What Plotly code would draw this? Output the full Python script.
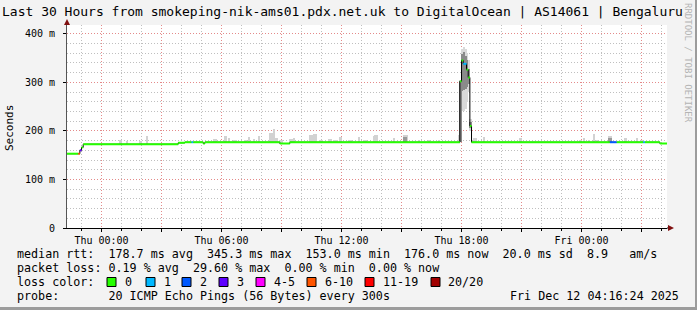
import plotly.graph_objects as go
import pandas as pd

# ---------------- data ----------------
T_START = "2025-12-10 22:16:24"
T_END = "2025-12-12 04:16:24"

LOSS_LABELS = ["0", "1", "2", "3", "4-5", "6-10", "11-19", "20/20"]
LOSS_COLORS = ["#26ff00", "#00b8ff", "#0059ff", "#5e00ff", "#ff00ff", "#ff5500", "#ff0000", "#a10000"]

# median rtt (ms) as runs: start of run, value, loss-bucket index
MED_TIME = ["2025-12-10 22:15", "2025-12-10 22:50", "2025-12-10 22:55", "2025-12-10 23:00",
            "2025-12-10 23:05", "2025-12-11 03:50", "2025-12-11 04:10", "2025-12-11 04:30",
            "2025-12-11 04:35", "2025-12-11 05:05", "2025-12-11 05:10", "2025-12-11 08:55",
            "2025-12-11 09:25", "2025-12-11 17:55", "2025-12-11 18:00", "2025-12-11 18:05",
            "2025-12-11 18:15", "2025-12-11 18:20", "2025-12-11 18:25", "2025-12-11 18:30",
            "2025-12-12 01:25", "2025-12-12 01:45", "2025-12-12 03:05", "2025-12-12 03:10",
            "2025-12-12 03:55"]
MED_MS = [153, 153, 160, 166, 172.5, 175.5, 176.6, 176.6, 176.6, 174, 176.6, 174,
          176.6, 302, 345, 338, 326, 310, 210, 176.6, 176.6, 176.6, 176.6, 176.6, 174]
MED_LOSS = [0, 5, 3, 0, 0, 0, 0, 1, 0, 0, 0, 0,
            0, 0, 0, 1, 0, 0, 0, 0, 2, 0, 1, 0, 0]

# light smoke spikes above the median (upper ping value, ms)
SMOKE_TIME = ["2025-12-11 00:55", "2025-12-11 01:15", "2025-12-11 01:55", "2025-12-11 02:15",
              "2025-12-11 05:35", "2025-12-11 05:40", "2025-12-11 06:10", "2025-12-11 06:20",
              "2025-12-11 06:35", "2025-12-11 06:40", "2025-12-11 07:10", "2025-12-11 07:20",
              "2025-12-11 07:35", "2025-12-11 07:50", "2025-12-11 08:25", "2025-12-11 08:30",
              "2025-12-11 08:35", "2025-12-11 08:40", "2025-12-11 08:45", "2025-12-11 08:55",
              "2025-12-11 09:00", "2025-12-11 09:25", "2025-12-11 09:30", "2025-12-11 09:35",
              "2025-12-11 10:25", "2025-12-11 10:30", "2025-12-11 10:35", "2025-12-11 10:40",
              "2025-12-11 10:55", "2025-12-11 11:00", "2025-12-11 11:20", "2025-12-11 11:25",
              "2025-12-11 11:35", "2025-12-11 11:40", "2025-12-11 11:45", "2025-12-11 11:55",
              "2025-12-11 12:20", "2025-12-11 12:25", "2025-12-11 12:50", "2025-12-11 13:05",
              "2025-12-11 13:10", "2025-12-11 13:35", "2025-12-11 13:40", "2025-12-11 13:45",
              "2025-12-11 14:35", "2025-12-11 15:05", "2025-12-11 15:10", "2025-12-11 15:15",
              "2025-12-11 15:50", "2025-12-11 16:20", "2025-12-11 16:50", "2025-12-11 17:50",
              "2025-12-11 18:35", "2025-12-11 18:40", "2025-12-11 19:05", "2025-12-11 20:55",
              "2025-12-11 23:55", "2025-12-12 00:05", "2025-12-12 00:20", "2025-12-12 00:35",
              "2025-12-12 00:45", "2025-12-12 01:20", "2025-12-12 01:25", "2025-12-12 02:10",
              "2025-12-12 02:45", "2025-12-12 03:00"]
SMOKE_HI = [182, 180, 180, 190,
            184, 184, 189, 186,
            182, 182, 182, 187,
            183, 189, 196, 196,
            203, 186, 186, 182,
            182, 184, 184, 186,
            191, 191, 194, 194,
            182, 182, 183, 183,
            182, 182, 182, 187,
            182, 182, 187, 182,
            182, 189, 192, 192,
            186, 192, 192, 192,
            181, 182, 182, 192,
            186, 186, 187, 186,
            182, 186, 182, 194,
            182, 189, 189, 186,
            186, 182]

# darker smoke cores
DARK_TIME = ["2025-12-11 15:05", "2025-12-11 15:10", "2025-12-12 01:20", "2025-12-12 01:25"]
DARK_HI = [188, 188, 186, 186]

# smoke during the latency spike
SPIKE_TIME = ["2025-12-11 17:55", "2025-12-11 18:00", "2025-12-11 18:05", "2025-12-11 18:10",
              "2025-12-11 18:15", "2025-12-11 18:20", "2025-12-11 18:25"]
SPIKE_OUT_LO = [177, 240, 240, 245, 260, 280, 200]
SPIKE_OUT_HI = [305, 368, 372, 368, 360, 345, 225]
SPIKE_IN_LO = [177, 282, 285, 286, 290, 296, 205]
SPIKE_IN_HI = [302, 358, 362, 355, 345, 328, 218]

XTICK_TIME = ["2025-12-11 00:00", "2025-12-11 03:00", "2025-12-11 06:00", "2025-12-11 09:00",
              "2025-12-11 12:00", "2025-12-11 15:00", "2025-12-11 18:00", "2025-12-11 21:00",
              "2025-12-12 00:00", "2025-12-12 03:00"]
XTICK_TEXT = ["Thu 00:00", "", "Thu 06:00", "", "Thu 12:00", "", "Thu 18:00", "", "Fri 00:00", ""]
YTICK_VAL = [0, 100, 200, 300, 400]
YTICK_TEXT = ["0", "100 m", "200 m", "300 m", "400 m"]

TITLE = "Last 30 Hours from smokeping-nik-ams01.pdx.net.uk to DigitalOcean | AS14061 | Bengaluru"
LEG_RTT = "median rtt:  178.7 ms avg  345.3 ms max  153.0 ms min  176.0 ms now  20.0 ms sd  8.9   am/s"
LEG_LOSS = "packet loss: 0.19 % avg  29.60 % max  0.00 % min  0.00 % now"
LEG_COLOR = "loss color:"
LEG_PROBE = "probe:       20 ICMP Echo Pings (56 Bytes) every 300s"
DATE_TEXT = "Fri Dec 12 04:16:24 2025"
WATERMARK = "RRDTOOL / TOBI OETIKER"

# ---------------- layout helpers ----------------
W, H = 697, 310
ML, MR, MT, MB = 67, 30, 25, 82
PW, PH = W - ML - MR, H - MT - MB
MONO = "DejaVu Sans Mono"


def fx(px):
    return (px - ML) / PW


def fy(py):
    return (H - MB - py) / PH


def nb(s):
    return s.replace(" ", "\u00a0")


STEP = pd.Timedelta(seconds=300)
med_t = [pd.Timestamp(t) for t in MED_TIME]


def med_at(t):
    v = MED_MS[0]
    for tt, vv in zip(med_t, MED_MS):
        if tt <= t:
            v = vv
    return v


fig = go.Figure()


def smoke(times, lo, hi, color):
    ts = [pd.Timestamp(t) for t in times]
    fig.add_trace(go.Bar(
        x=[t + STEP / 2 for t in ts], y=[h - l for h, l in zip(hi, lo)], base=lo,
        width=300000, marker=dict(color=color, line=dict(width=0)),
        hoverinfo="skip", showlegend=False))


sm_lo = [med_at(pd.Timestamp(t)) for t in SMOKE_TIME]
smoke(SMOKE_TIME, sm_lo, SMOKE_HI, "#d2d2d2")
dk_lo = [med_at(pd.Timestamp(t)) for t in DARK_TIME]
smoke(DARK_TIME, dk_lo, DARK_HI, "#9a9a9a")
smoke(SPIKE_TIME, SPIKE_OUT_LO, SPIKE_OUT_HI, "#d9d9d9")
smoke(SPIKE_TIME, SPIKE_IN_LO, SPIKE_IN_HI, "#8a8a8a")

# black connector (step line)
fig.add_trace(go.Scatter(x=MED_TIME + [T_END], y=MED_MS + [MED_MS[-1]], mode="lines",
                         line=dict(color="#000000", width=1, shape="hv"),
                         hoverinfo="skip", showlegend=False))

# coloured median segments by loss bucket
ends = med_t[1:] + [pd.Timestamp(T_END)]
for b, col in enumerate(LOSS_COLORS):
    xs, ys = [], []
    for t0, t1, v, l in zip(med_t, ends, MED_MS, MED_LOSS):
        if l == b:
            xs += [t0, t1, None]
            ys += [v, v, None]
    if xs:
        fig.add_trace(go.Scatter(x=xs, y=ys, mode="lines", line=dict(color=col, width=2),
                                 hoverinfo="skip", showlegend=False))

MAJ_GRID = "rgba(240,120,120,0.75)"
MIN_GRID = "rgba(170,170,170,0.75)"

fig.update_layout(
    width=W, height=H, margin=dict(l=ML, r=MR, t=MT, b=MB, pad=0),
    paper_bgcolor="#f3f3f3", plot_bgcolor="#ffffff",
    barmode="overlay", bargap=0, showlegend=False,
    font=dict(family=MONO, size=10, color="#000000"),
    xaxis=dict(range=[T_START, T_END], type="date",
               tickmode="array", tickvals=XTICK_TIME, ticktext=XTICK_TEXT,
               showgrid=True, gridcolor=MAJ_GRID, griddash="1px,2px", gridwidth=1,
               showline=True, linecolor="#000000", linewidth=1,
               ticks="outside", ticklen=3, tickcolor="#000000",
               tickfont=dict(family=MONO, size=10),
               minor=dict(tickmode="linear", tick0="2025-12-11 00:00", dtick=3600000,
                          showgrid=True, gridcolor=MIN_GRID, griddash="1px,2px", gridwidth=1,
                          ticks="outside", ticklen=2, tickcolor="#000000"),
               zeroline=False, fixedrange=True),
    yaxis=dict(range=[0, 418], tickmode="array", tickvals=YTICK_VAL, ticktext=YTICK_TEXT,
               showgrid=True, gridcolor=MAJ_GRID, griddash="1px,2px", gridwidth=1,
               showline=True, linecolor="#555555", linewidth=1,
               ticks="outside", ticklen=3, tickcolor="#000000",
               ticklabelstandoff=6,
               tickfont=dict(family=MONO, size=10),
               minor=dict(tickmode="linear", tick0=0, dtick=20,
                          showgrid=True, gridcolor=MIN_GRID, griddash="1px,2px", gridwidth=1),
               zeroline=False, fixedrange=True),
)

ann = []
ann.append(dict(text=nb(TITLE), x=fx(0), y=fy(12), xanchor="left", yanchor="middle",
                font=dict(family=MONO, size=13.0, color="#000000")))
ann.append(dict(text="Seconds", x=fx(10), y=fy(128), textangle=-90, xanchor="center",
                yanchor="middle", font=dict(family=MONO, size=11, color="#000000")))
ann.append(dict(text=nb(WATERMARK), x=fx(688), y=fy(63), textangle=90, xanchor="center",
                yanchor="middle", font=dict(family=MONO, size=9, color="#b4b4b4")))
LEG_FONT = dict(family=MONO, size=11.7, color="#000000")
for txt, py in [(LEG_RTT, 254), (LEG_LOSS, 268), (LEG_COLOR, 282), (LEG_PROBE, 296)]:
    ann.append(dict(text=nb(txt), x=fx(15), y=fy(py), xanchor="left", yanchor="middle",
                    font=LEG_FONT))
ann.append(dict(text=nb(DATE_TEXT), x=fx(681), y=fy(296), xanchor="right", yanchor="middle",
                font=LEG_FONT))

BOX_X = [107, 146, 182, 219, 256, 307, 365, 431]
LAB_X = [123, 162, 198, 235, 272, 323, 381, 446]
shapes = []
for lab, col, bx, lx in zip(LOSS_LABELS, LOSS_COLORS, BOX_X, LAB_X):
    shapes.append(dict(type="rect", xref="paper", yref="paper", x0=fx(bx), x1=fx(bx + 9),
                       y0=fy(286.5), y1=fy(277.5), fillcolor=col,
                       line=dict(color="#000000", width=1)))
    ann.append(dict(text=nb(lab), x=fx(lx), y=fy(282), xanchor="left", yanchor="middle",
                    font=LEG_FONT))
for a in ann:
    a.update(xref="paper", yref="paper", showarrow=False)

# axis arrows
shapes.append(dict(type="line", xref="paper", yref="paper", x0=fx(67), x1=fx(67),
                   y0=fy(25), y1=fy(21), line=dict(color="#555555", width=1)))
shapes.append(dict(type="path", xref="paper", yref="paper",
                   path=f"M {fx(64)} {fy(25)} L {fx(70)} {fy(25)} L {fx(67)} {fy(19)} Z",
                   fillcolor="#801010", line=dict(width=0)))
shapes.append(dict(type="line", xref="paper", yref="paper", x0=fx(667), x1=fx(669),
                   y0=fy(228), y1=fy(228), line=dict(color="#000000", width=1)))
shapes.append(dict(type="path", xref="paper", yref="paper",
                   path=f"M {fx(668)} {fy(225)} L {fx(668)} {fy(231)} L {fx(674)} {fy(228)} Z",
                   fillcolor="#801010", line=dict(width=0)))
# 3-D frame
shapes.append(dict(type="rect", xref="paper", yref="paper", x0=fx(695), x1=fx(697),
                   y0=fy(310), y1=fy(0), fillcolor="#9c9c9c", line=dict(width=0)))
shapes.append(dict(type="rect", xref="paper", yref="paper", x0=fx(0), x1=fx(697),
                   y0=fy(310), y1=fy(307), fillcolor="#9c9c9c", line=dict(width=0)))

fig.update_layout(annotations=ann, shapes=shapes)
fig.write_html("out.html", include_plotlyjs=True, config=dict(displayModeBar=False))
